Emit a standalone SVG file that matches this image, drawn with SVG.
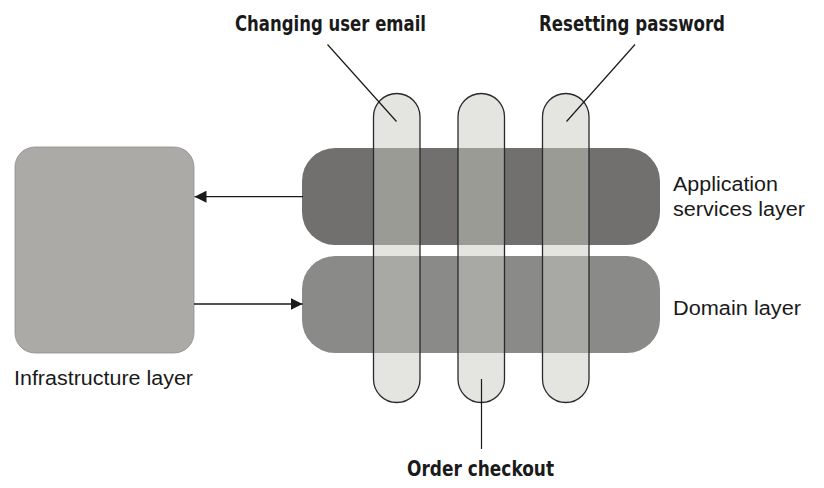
<svg xmlns="http://www.w3.org/2000/svg" width="824" height="488" viewBox="0 0 824 488">
<style>
.lbl{font-family:"Liberation Sans",Arial,sans-serif;font-size:20px;fill:#1a1a1a}
.ttl{font-family:"DejaVu Sans","Liberation Sans",sans-serif;font-size:21px;font-weight:bold;font-stretch:condensed;fill:#1a1a1a}
.pill{fill:rgb(200,200,192);fill-opacity:0.49;stroke:#2a2a2a;stroke-width:1.3}
.lead{stroke:#1a1a1a;stroke-width:1.2;fill:none}
.conn{stroke:#1a1a1a;stroke-width:1.3;fill:none}
</style>
<defs>
<marker id="arr" viewBox="0 0 12 12" refX="12" refY="6" markerWidth="12" markerHeight="12" markerUnits="userSpaceOnUse" orient="auto">
<path d="M0,0 L12,6 L0,12 z" fill="#1a1a1a"/>
</marker>
</defs>
<rect width="824" height="488" fill="#ffffff"/>
<g id="infrastructure">
<rect x="15" y="147" width="179" height="206" rx="20" fill="#abaaa7" stroke="#8f8e8b" stroke-width="0.8"/>
<text class="lbl" x="14" y="385" textLength="179" lengthAdjust="spacingAndGlyphs">Infrastructure layer</text>
</g>
<g id="app-layer">
<rect x="302" y="148" width="358" height="97" rx="33" fill="#71706e"/>
<text class="lbl" x="673" y="191" textLength="105" lengthAdjust="spacingAndGlyphs">Application</text>
<text class="lbl" x="673" y="216" textLength="132" lengthAdjust="spacingAndGlyphs">services layer</text>
</g>
<g id="domain-layer">
<rect x="302" y="256" width="358" height="97" rx="33" fill="#8a8a89"/>
<text class="lbl" x="673" y="315" textLength="128" lengthAdjust="spacingAndGlyphs">Domain layer</text>
</g>
<g id="changing-user-email">
<rect class="pill" x="373.5" y="93.5" width="46.5" height="309" rx="23.25"/>
<text class="ttl" x="235" y="31" textLength="191" lengthAdjust="spacingAndGlyphs">Changing user email</text>
</g>
<g id="order-checkout">
<rect class="pill" x="458" y="93.5" width="46.5" height="309" rx="23.25"/>
<text class="ttl" x="407" y="476" textLength="147" lengthAdjust="spacingAndGlyphs">Order checkout</text>
</g>
<g id="resetting-password">
<rect class="pill" x="542.5" y="93.5" width="46.5" height="309" rx="23.25"/>
<text class="ttl" x="539" y="31" textLength="186" lengthAdjust="spacingAndGlyphs">Resetting password</text>
</g>
<g id="connectors">
<line class="conn" x1="303" y1="196.7" x2="194.5" y2="196.7" marker-end="url(#arr)"/>
<line class="conn" x1="194" y1="304" x2="302.5" y2="304" marker-end="url(#arr)"/>
<line class="lead" x1="327.5" y1="44.5" x2="396.5" y2="121.5"/>
<line class="lead" x1="635" y1="44.5" x2="566.5" y2="121.5"/>
<line class="lead" x1="481.5" y1="379" x2="481.5" y2="449"/>
</g>
</svg>
